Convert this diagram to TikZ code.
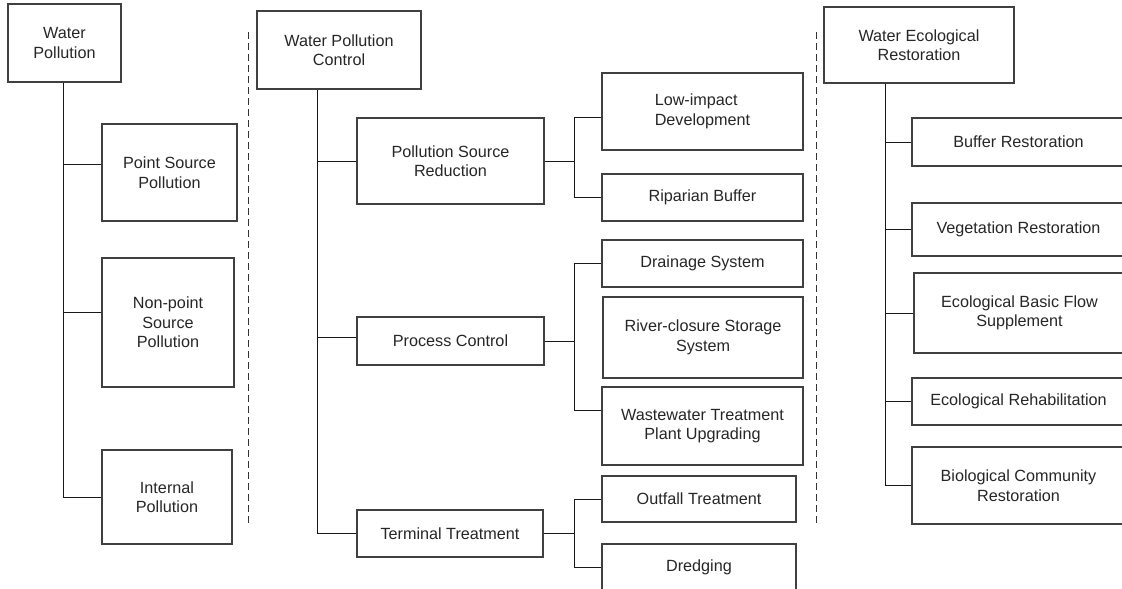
\documentclass[tikz,border=0pt]{standalone}
\usepackage{fontspec}
\setmainfont{Liberation Sans}

\begin{document}
\begin{tikzpicture}[x=1pt, y=-1pt,
    box/.style={rectangle, draw=black!75, line width=1.1pt, inner sep=0pt, align=center,
                text=black!85, font=\fontsize{16.2}{19.5}\selectfont},
    link/.style={draw=black!90, line width=1pt},
    separator/.style={draw=black!80, line width=1pt, dash pattern=on 7pt off 4pt}]
    \useasboundingbox (0,0) rectangle (1122,589);
    \clip (0,0) rectangle (1122,589);

    % column 1
    \node[box, minimum width=113, minimum height=78] (waterPollution) at (64.5,43) {Water\\Pollution};
    \node[box, minimum width=135, minimum height=97] (pointSource) at (169.5,172.5) {Point Source\\Pollution};
    \node[box, minimum width=132, minimum height=129] (nonPoint) at (168,322.5) {Non-point\\Source\\Pollution};
    \node[box, minimum width=130, minimum height=94] (internalPollution) at (167,497) {Internal\\Pollution};
    \coordinate (trunkA) at (63,0);

    % column 2
    \node[box, minimum width=164, minimum height=78] (pollutionControl) at (339,50) {Water Pollution\\Control};
    \node[box, minimum width=187, minimum height=86] (sourceReduction) at (450.5,161) {Pollution Source\\Reduction};
    \node[box, minimum width=187, minimum height=48] (processControl) at (450.5,341) {Process Control};
    \node[box, minimum width=186, minimum height=47] (terminalTreatment) at (450,533.5) {Terminal Treatment};
    \node[box, minimum width=201, minimum height=77, align=left] (lowImpact) at (702.5,111.5) {Low-impact\\Development};
    \node[box, minimum width=201, minimum height=47] (riparianBuffer) at (702.5,197.5) {Riparian Buffer};
    \node[box, minimum width=201, minimum height=47] (drainageSystem) at (702.5,263.5) {Drainage System};
    \node[box, minimum width=200, minimum height=81] (riverClosure) at (703,337.5) {River-closure Storage\\System};
    \node[box, minimum width=201, minimum height=78] (wastewaterPlant) at (702.5,426) {Wastewater Treatment\\Plant Upgrading};
    \node[box, minimum width=194, minimum height=46] (outfallTreatment) at (699,499) {Outfall Treatment};
    \node[box, minimum width=194, minimum height=46] (dredging) at (699,567) {Dredging};
    \coordinate (trunkB) at (317,0);
    \coordinate (branchX) at (574,0);

    % column 3
    \node[box, minimum width=190, minimum height=76] (ecoRestoration) at (919,45) {Water Ecological\\Restoration};
    \node[box, minimum width=213, minimum height=48] (bufferRestoration) at (1018.5,142) {Buffer Restoration};
    \node[box, minimum width=213, minimum height=53] (vegetationRestoration) at (1018.5,229.5) {Vegetation Restoration};
    \node[box, minimum width=211, minimum height=80] (basicFlow) at (1019.5,313) {Ecological Basic Flow\\Supplement};
    \node[box, minimum width=213, minimum height=47] (ecoRehabilitation) at (1018.5,401.5) {Ecological Rehabilitation};
    \node[box, minimum width=213, minimum height=77] (communityRestoration) at (1018.5,485.5) {Biological Community\\Restoration};
    \coordinate (trunkC) at (885,0);

    % separators
    \draw[separator] (248,32) -- (248,524);
    \draw[separator] (816,32) -- (816,523);

    % tree lines
    \draw[link] (trunkA |- waterPollution.south) |- ([yshift=8pt]pointSource.west);
    \draw[link] (trunkA |- waterPollution.south) |- ([yshift=10pt]nonPoint.west);
    \draw[link] (trunkA |- waterPollution.south) |- (internalPollution.west);

    \draw[link] (trunkB |- pollutionControl.south) |- (sourceReduction.west);
    \draw[link] (trunkB |- pollutionControl.south) |- ([yshift=4pt]processControl.west);
    \draw[link] (trunkB |- pollutionControl.south) |- (terminalTreatment.west);

    \draw[link] (sourceReduction.east) -- (sourceReduction.east -| branchX);
    \draw[link] ([yshift=-5.5pt]lowImpact.west) -| (branchX |- riparianBuffer.west) -- (riparianBuffer.west);
    \draw[link] (processControl.east) -- (processControl.east -| branchX);
    \draw[link] (drainageSystem.west) -- (drainageSystem.west -| branchX) |- ([yshift=16pt]wastewaterPlant.west);
    \draw[link] (terminalTreatment.east) -- (terminalTreatment.east -| branchX);
    \draw[link] (outfallTreatment.west) -- (outfallTreatment.west -| branchX) |- (dredging.west);

    \foreach \leaf in {bufferRestoration, vegetationRestoration, basicFlow, ecoRehabilitation, communityRestoration}
        \draw[link] (trunkC |- ecoRestoration.south) |- (\leaf.west);
\end{tikzpicture}
\end{document}
